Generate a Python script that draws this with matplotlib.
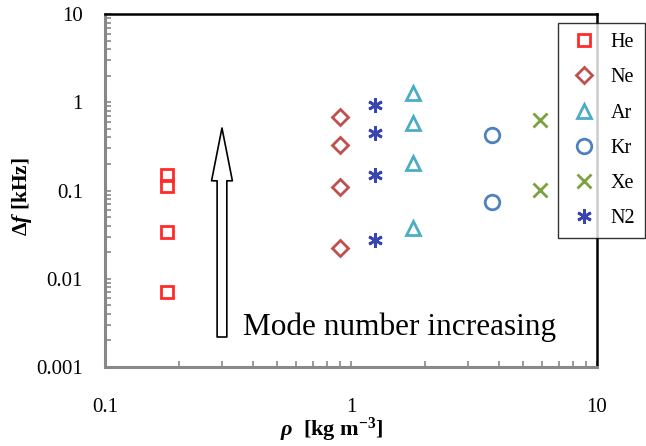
import matplotlib
matplotlib.use("Agg")
import matplotlib.pyplot as plt
from matplotlib.ticker import FixedLocator, FixedFormatter, LogLocator, NullFormatter

plt.rcParams["font.family"] = ["Liberation Serif", "DejaVu Serif"]
plt.rcParams["mathtext.fontset"] = "custom"
plt.rcParams["mathtext.rm"] = "Liberation Serif"
plt.rcParams["mathtext.it"] = "Liberation Serif:italic"
plt.rcParams["mathtext.bf"] = "Liberation Serif:bold"
plt.rcParams["mathtext.bfit"] = "Liberation Serif:italic:bold"

# --- datos (densidad en kg/m3, ancho de linea en kHz) ---
gases = ["He", "Ne", "Ar", "Kr", "Xe", "N2"]
rho_he = [0.1785, 0.1785, 0.1785, 0.1785]
df_he = [0.150, 0.112, 0.034, 0.0071]
rho_ne = [0.90, 0.90, 0.90, 0.90]
df_ne = [0.68, 0.328, 0.110, 0.0222]
rho_ar = [1.784, 1.784, 1.784, 1.784]
df_ar = [1.27, 0.58, 0.205, 0.0376]
rho_kr = [3.75, 3.75]
df_kr = [0.426, 0.0746]
rho_xe = [5.89, 5.89]
df_xe = [0.63, 0.101]
rho_n2 = [1.25, 1.25, 1.25, 1.25]
df_n2 = [0.93, 0.449, 0.150, 0.0275]

x_ticks = [0.1, 1, 10]
x_ticklabels = ["0.1", "1", "10"]
y_ticks = [0.001, 0.01, 0.1, 1, 10]
y_ticklabels = ["0.001", "0.01", "0.1", "1", "10"]

fig = plt.figure(figsize=(6.46, 4.46), dpi=100)
ax = fig.add_axes([0.1625, 0.1771, 0.7616, 0.7915])

estilos = [
    (rho_he, df_he, "s", "#FF2A2A", 8.0),
    (rho_ne, df_ne, "D", "#C0504D", 8.0),
    (rho_ar, df_ar, "^", "#4BACC6", 10.5),
    (rho_kr, df_kr, "o", "#4F81BD", 10.5),
    (rho_xe, df_xe, "x", "#7BA23F", 10.5),
    (rho_n2, df_n2, (6, 2, 0), "#3A46B0", 10.5),
]
for nombre, (xs, ys, mk, col, ms) in zip(gases, estilos):
    ax.plot(xs, ys, linestyle="none", marker=mk, markersize=ms,
            markerfacecolor="none", markeredgecolor=col, markeredgewidth=2.0,
            label=nombre)

ax.set_xscale("log")
ax.set_yscale("log")
ax.set_xlim(0.1, 10)
ax.set_ylim(0.001, 10)

ax.xaxis.set_major_locator(FixedLocator(x_ticks))
ax.xaxis.set_major_formatter(FixedFormatter(x_ticklabels))
ax.yaxis.set_major_locator(FixedLocator(y_ticks))
ax.yaxis.set_major_formatter(FixedFormatter(y_ticklabels))
ax.xaxis.set_minor_locator(LogLocator(base=10, subs=range(2, 10)))
ax.yaxis.set_minor_locator(LogLocator(base=10, subs=range(2, 10)))
ax.xaxis.set_minor_formatter(NullFormatter())
ax.yaxis.set_minor_formatter(NullFormatter())

ax.tick_params(which="both", direction="in", color="#888888", width=1.2,
               top=False, right=False, length=4)
ax.tick_params(axis="x", which="major", labelsize=15, pad=22)
ax.tick_params(axis="y", which="major", labelsize=15, pad=16)

# ejes: izquierda/abajo gris, arriba/derecha negro
for lado in ("left", "bottom"):
    ax.spines[lado].set_color("#888888")
    ax.spines[lado].set_linewidth(2.2)
for lado in ("top", "right"):
    ax.spines[lado].set_color("black")
    ax.spines[lado].set_linewidth(1.8)

# flecha hueca y texto
ax.annotate("", xy=(0.2378, 0.677), xytext=(0.2378, 0.085),
            xycoords="axes fraction", textcoords="axes fraction",
            arrowprops=dict(arrowstyle="simple,head_length=38,head_width=15,tail_width=7",
                            mutation_scale=1, fc="white", ec="black", lw=1.2,
                            shrinkA=0, shrinkB=0))
ax.text(0.2805, 0.0907, "Mode number increasing", transform=ax.transAxes,
        fontsize=22.5, ha="left", va="baseline")

# etiquetas de ejes
fig.text(332 / 646, 1 - 436 / 446, r"$\mathbfit{\rho}$  [kg m$^{\mathbf{-3}}$]",
         fontsize=16, fontweight="bold", ha="center", va="baseline")
fig.text(22 / 646, 1 - 197 / 446, r"Δ$\mathbfit{f}$ [kHz]", rotation=90,
         fontsize=15.5, fontweight="bold", ha="center", va="center")

leg = fig.legend(loc="upper left", bbox_to_anchor=(558 / 646, 1 - 23 / 446),
                 fontsize=14.5, frameon=True, fancybox=False, edgecolor="black",
                 borderpad=0.5, labelspacing=0.8, handlelength=1.6,
                 handletextpad=0.5, borderaxespad=0)
leg.get_frame().set_linewidth(1.0)

fig.savefig("out.png", dpi=100, facecolor="white")
